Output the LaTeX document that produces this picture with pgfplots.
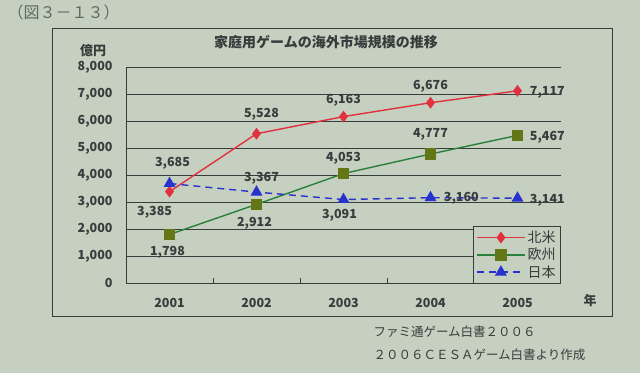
\documentclass[border=0pt]{standalone}
\usepackage{fontspec}
\setmainfont{Noto Sans CJK JP}
\usepackage{pgfplots}
\pgfplotsset{compat=1.18}
\usepackage{pgfplotstable}
\definecolor{bg}{RGB}{198,208,192}
\definecolor{ink}{RGB}{55,60,60}
\definecolor{lightink}{RGB}{95,105,100}
\definecolor{nared}{RGB}{226,48,62}
\definecolor{eugreen}{RGB}{40,128,58}
\definecolor{euolive}{RGB}{100,118,22}
\definecolor{jpblue}{RGB}{40,50,205}

\pgfplotstableread{
x y lab dx dy
0 3385 3,385 -15 -21
1 5528 5,528 5 20
2 6163 6,163 0 16
3 6676 6,676 0 17
4 7117 7,117 30 -2
}\tna
\pgfplotstableread{
x y lab dx dy
0 1798 1,798 -2 -18
1 2912 2,912 -2 -19
2 4053 4,053 0 15
3 4777 4,777 0 20
4 5467 5,467 30 -2
}\teu
\pgfplotstableread{
x y lab dx dy
0 3685 3,685 3 20
1 3367 3,367 5 14
2 3091 3,091 -4 -16
3 3160 3,160 31 -1
4 3141 3,141 30 -2
}\tjp

\pgfplotsset{
  labelled/.style={
    nodes near coords,
    point meta=explicit symbolic,
    visualization depends on={\thisrow{dx} \as \dx},
    visualization depends on={\thisrow{dy} \as \dy},
    every node near coord/.append style={anchor=center, xshift=\dx, yshift=\dy,
      text=ink, font=\fontsize{12.5bp}{14bp}\selectfont\bfseries, inner sep=0pt},
  }
}

\begin{document}
\begin{tikzpicture}
\fill[bg] (0,0) rectangle (640bp,373bp);
\draw[ink, line width=0.8bp] (52bp,57bp) rectangle (612bp,345bp);
\node[lightink, anchor=west, font=\fontsize{16bp}{18bp}\selectfont] at (4bp,361bp) {（図３－１３）};
\node[ink, font=\fontsize{14bp}{16bp}\selectfont\bfseries] at (326bp,331bp) {家庭用ゲームの海外市場規模の推移};
\node[ink, font=\fontsize{13bp}{16bp}\selectfont\bfseries] at (93bp,322bp) {億円};
\node[ink, font=\fontsize{13bp}{16bp}\selectfont\bfseries] at (590bp,72bp) {年};
\node[ink, anchor=west, font=\fontsize{12.5bp}{15bp}\selectfont] at (370bp,41bp) {ファミ通ゲーム白書２００６};
\node[ink, anchor=west, font=\fontsize{12.5bp}{15bp}\selectfont] at (370bp,18bp) {２００６ＣＥＳＡゲーム白書より作成};
\begin{axis}[
  at={(126bp,90bp)}, anchor=south west,
  scale only axis, width=435bp, height=216bp,
  xmin=-0.5, xmax=4.5, ymin=0, ymax=8000,
  clip=false,
  axis lines=left,
  axis line style={ink, line width=0.8bp, -},
  xtick={0,1,2,3,4},
  xticklabels={2001,2002,2003,2004,2005},
  minor xtick={0.5,1.5,2.5,3.5},
  tick align=inside,
  major tick length=0pt,
  minor tick length=5bp,
  minor tick style={ink, line width=0.8bp},
  ytick={0,1000,...,8000},
  scaled y ticks=false,
  ymajorgrids,
  major grid style={ink, line width=0.7bp},
  /pgf/number format/assume math mode=true,
  /pgf/number format/1000 sep={,},
  tick label style={ink, font=\fontsize{12.5bp}{14bp}\selectfont\bfseries},
  yticklabel style={xshift=-10bp},
  xticklabel style={yshift=-12bp},
  legend style={at={(1,-0.005)}, anchor=south east, fill=bg, draw=ink,
    line width=0.8bp, font=\fontsize{14bp}{16bp}\selectfont, text=ink,
    row sep=0bp, inner sep=3bp},
  legend cell align=left,
  legend image code/.code={
    \draw[mark repeat=2, mark phase=2] plot coordinates {(0bp,0bp) (24bp,0bp) (48bp,0bp)};
  },
]
\addplot[nared, line width=1.4bp, mark=diamond*, mark size=4.8bp,
  mark options={solid, fill=nared, draw=nared}, labelled]
  table[x=x, y=y, meta=lab]{\tna};
\addlegendentry{北米}
\addplot[eugreen, line width=1.4bp, mark=square*, mark size=5bp,
  mark options={solid, fill=euolive, draw=euolive}, labelled]
  table[x=x, y=y, meta=lab]{\teu};
\addlegendentry{欧州}
\addplot[jpblue, line width=1.4bp, dash pattern=on 7bp off 5bp, mark=triangle*, mark size=5.5bp,
  mark options={solid, fill=jpblue, draw=jpblue}, labelled]
  table[x=x, y=y, meta=lab]{\tjp};
\addlegendentry{日本}
\end{axis}
\end{tikzpicture}
\end{document}
